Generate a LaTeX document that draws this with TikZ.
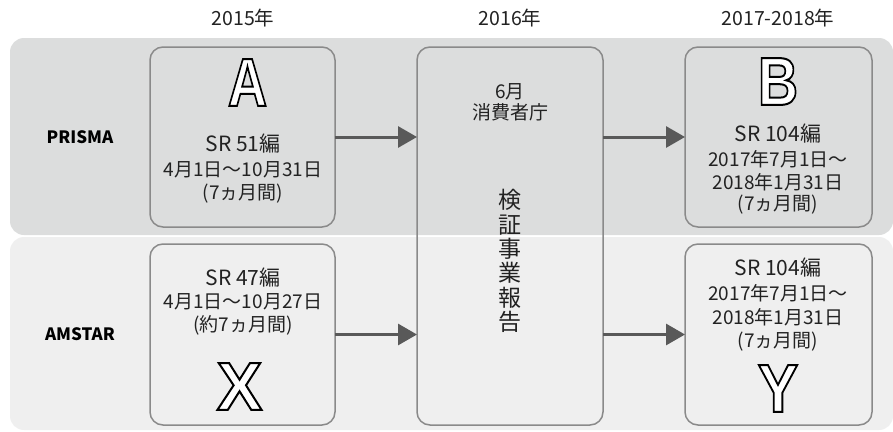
\documentclass[tikz,border=0pt]{standalone}
\usepackage{fontspec}
\usepackage{graphicx}
\setmainfont{Noto Sans CJK JP}
\newfontfamily\letterfont{Liberation Sans Bold}
\usetikzlibrary{arrows.meta}
\definecolor{bandA}{HTML}{DCDDDD}
\definecolor{bandB}{HTML}{EFEFEF}
\definecolor{boxline}{HTML}{8A8A8A}
\definecolor{arrowc}{HTML}{595959}
\definecolor{txt}{HTML}{222222}
\tikzset{
  band/.style={rounded corners=14pt, inner sep=0pt, outer sep=0pt, draw=none, anchor=north west},
  stepbox/.style={draw=boxline, line width=1.5pt, rounded corners=13pt, inner sep=0pt, outer sep=0pt},
  arr/.style={draw=arrowc, line width=3pt, -{Triangle[length=19pt, width=21pt]}},
  hdr/.style={text=txt, inner sep=0pt, font=\fontsize{19.5}{22}\selectfont},
  lbl/.style={text=black, inner sep=0pt, font=\bfseries\fontsize{17}{19}\selectfont},
  big/.style={text=txt, inner sep=0pt, font=\fontsize{21}{24}\selectfont},
  small/.style={text=txt, inner sep=0pt, font=\fontsize{19}{22}\selectfont},
  vert/.style={text=txt, inner sep=0pt, align=center, font=\fontsize{23}{24.4}\selectfont},
  letter/.style={inner sep=0pt, font=\letterfont\fontsize{68}{70}\selectfont}
}
\newcommand{\outl}[2]{{\color{white}\special{pdf:code 2 Tr 2 w 0 G}\scalebox{#1}[1]{#2}\special{pdf:code 0 Tr}}}
\begin{document}
\begin{tikzpicture}[x=1pt,y=-1pt]
\useasboundingbox (0,0) rectangle (893,431);
% bands
\node[band, fill=bandA, minimum width=883pt, minimum height=197pt] (bandtop) at (10,38) {};
\node[band, fill=bandB, minimum width=883pt, minimum height=193pt] (bandbot) at (10,237) {};
% boxes
\node[stepbox, minimum width=185pt, minimum height=180pt] (A) at (242.5,137) {};
\node[stepbox, minimum width=185pt, minimum height=181pt] (X) at (242.5,334.5) {};
\node[stepbox, minimum width=186pt, minimum height=378pt] (M) at (510,236) {};
\node[stepbox, minimum width=187pt, minimum height=180pt] (B) at (778.5,137) {};
\node[stepbox, minimum width=187pt, minimum height=181pt] (Y) at (778.5,334.5) {};
% arrows
\draw[arr] (A.east) -- (M.west |- A.east);
\draw[arr] (X.east) -- (M.west |- X.east);
\draw[arr] (M.east |- B.west) -- (B.west);
\draw[arr] (M.east |- Y.west) -- (Y.west);
% headers
\node[hdr] (h1) at (243,18) {2015年};
\node[hdr] (h2) at (510,18) {2016年};
\node[hdr] (h3) at (778,18) {2017-2018年};
\node[lbl] (l1) at (80,137) {PRISMA};
\node[lbl] (l2) at (80,334) {AMSTAR};
% box A
\node[big] (a1) at (243,144) {SR 51編};
\node[small] (a2) at (243,170) {4月1日〜10月31日};
\node[small] (a3) at (243,194) {(7ヵ月間)};
% middle
\node[small] (m1) at (510,92) {6月};
\node[small] (m2) at (510,112) {消費者庁};
\node[vert] (m3) at (510,261) {検\\証\\事\\業\\報\\告};
% box B
\node[big] (b1) at (778,134) {SR 104編};
\node[small] (b2) at (778,159) {2017年7月1日〜};
\node[small] (b3) at (778,182) {2018年1月31日};
\node[small] (b4) at (778,205) {(7ヵ月間)};
% box X
\node[big] (x1) at (243,278) {SR 47編};
\node[small] (x2) at (243,302) {4月1日〜10月27日};
\node[small] (x3) at (243,325) {(約7ヵ月間)};
% box Y
\node[big] (y1) at (778,268) {SR 104編};
\node[small] (y2) at (778,293) {2017年7月1日〜};
\node[small] (y3) at (778,317) {2018年1月31日};
\node[small] (y4) at (778,342) {(7ヵ月間)};
% letters
\node[letter] (LA) at (247.5,82.5) {\outl{0.8}{A}};
\node[letter] (LB) at (778,81.5) {\outl{0.82}{B}};
\node[letter] (LX) at (239.5,386.5) {\outl{1}{X}};
\node[letter] (LY) at (778,388.5) {\outl{0.89}{Y}};
\end{tikzpicture}
\end{document}
